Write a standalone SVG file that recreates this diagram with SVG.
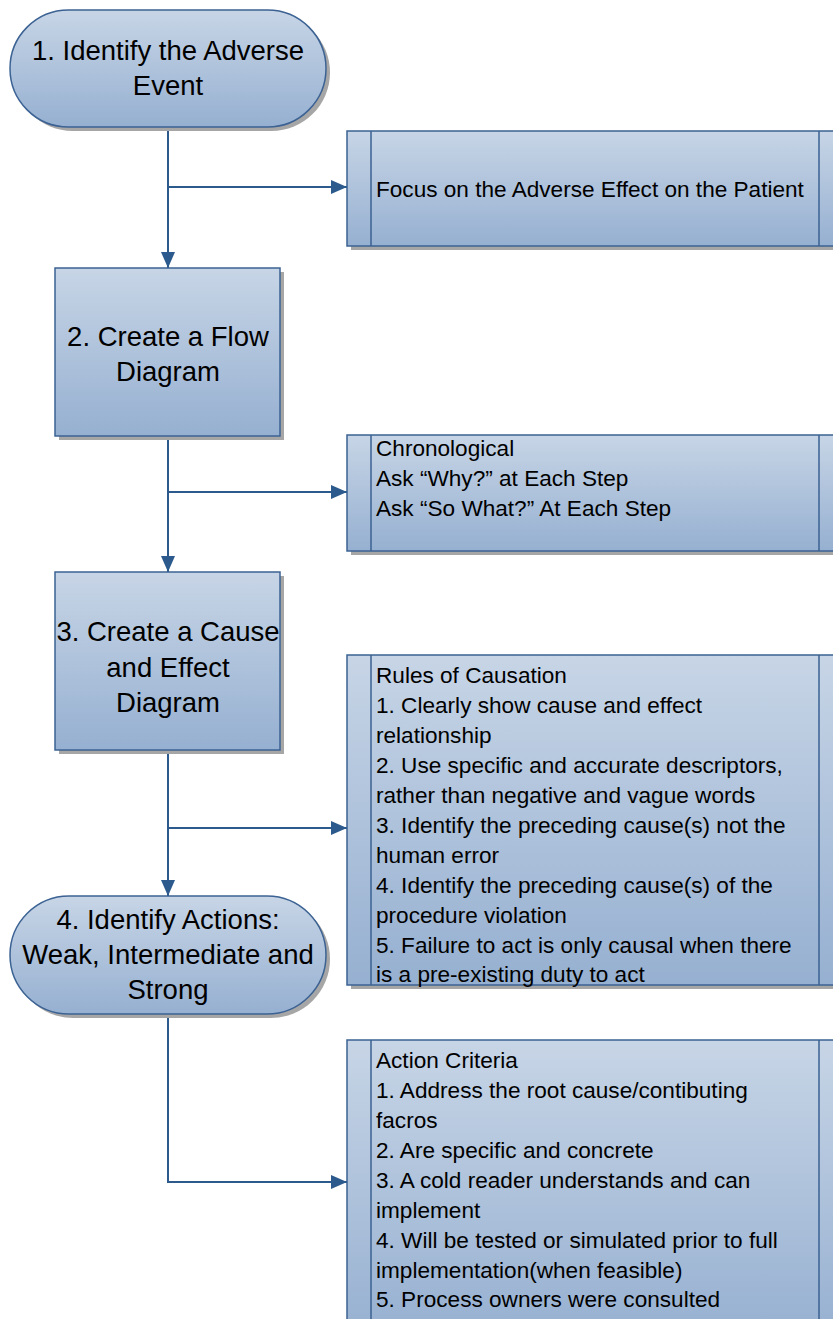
<svg xmlns="http://www.w3.org/2000/svg" width="833" height="1319" viewBox="0 0 833 1319">
<defs>
<linearGradient id="g" x1="0" y1="0" x2="0" y2="1">
<stop offset="0" stop-color="#c7d5e6"/>
<stop offset="1" stop-color="#96b0d1"/>
</linearGradient>
<marker id="arrv" viewBox="0 0 16 16" refX="16" refY="8" markerWidth="16" markerHeight="16" markerUnits="userSpaceOnUse" orient="auto">
<path d="M0,1 L16,8 L0,15 Z" fill="#2c5a8c"/>
</marker>
</defs>
<style>
.sh{fill:#a6a6a6}
.nd{fill:url(#g);stroke:#3b6293;stroke-width:1.5}
.ln{fill:none;stroke:#3b6293;stroke-width:1.5}
.t{font-family:"Liberation Sans",Arial,sans-serif;font-size:27.5px;fill:#000;text-anchor:middle}
.s{font-family:"Liberation Sans",Arial,sans-serif;font-size:22.6px;fill:#000}
.c{fill:none;stroke:#2c5a8c;stroke-width:2}
</style>
<rect width="833" height="1319" fill="#fff"/>

<g id="connectors">
<path class="c" d="M168,127 V268" marker-end="url(#arrv)"/>
<path class="c" d="M168,187 H347" marker-end="url(#arrv)"/>
<path class="c" d="M168,437 V572" marker-end="url(#arrv)"/>
<path class="c" d="M168,492 H347" marker-end="url(#arrv)"/>
<path class="c" d="M168,750 V896" marker-end="url(#arrv)"/>
<path class="c" d="M168,828 H347" marker-end="url(#arrv)"/>
<path class="c" d="M168,1016 V1182 H347" marker-end="url(#arrv)"/>
</g>

<g id="n1">
<rect class="sh" x="14" y="14" width="316" height="117" rx="58.5"/>
<rect class="nd" x="10" y="10" width="316" height="117" rx="58.5"/>
<text class="t" x="168" y="60">1. Identify the Adverse</text>
<text class="t" x="168" y="95">Event</text>
</g>

<g id="n2">
<rect class="sh" x="59" y="272" width="225" height="168"/>
<rect class="nd" x="55" y="268" width="225" height="168"/>
<text class="t" x="168" y="346">2. Create a Flow</text>
<text class="t" x="168" y="381">Diagram</text>
</g>

<g id="n3">
<rect class="sh" x="59" y="576" width="225" height="178"/>
<rect class="nd" x="55" y="572" width="225" height="178"/>
<text class="t" x="168" y="641">3. Create a Cause</text>
<text class="t" x="168" y="677">and Effect</text>
<text class="t" x="168" y="712">Diagram</text>
</g>

<g id="n4">
<rect class="sh" x="14" y="900" width="316" height="118" rx="59"/>
<rect class="nd" x="10" y="896" width="316" height="118" rx="59"/>
<text class="t" x="168" y="929">4. Identify Actions:</text>
<text class="t" x="168" y="964">Weak, Intermediate and</text>
<text class="t" x="168" y="999">Strong</text>
</g>

<g id="p1">
<rect class="sh" x="351" y="135" width="500" height="115"/>
<rect class="nd" x="347" y="131" width="500" height="115"/>
<path class="ln" d="M371,131 V246 M819,131 V246"/>
<text class="s" x="376" y="197">Focus on the Adverse Effect on the Patient</text>
</g>

<g id="p2">
<rect class="sh" x="351" y="439" width="500" height="116"/>
<rect class="nd" x="347" y="435" width="500" height="116"/>
<path class="ln" d="M371,435 V551 M819,435 V551"/>
<text class="s" x="376" y="456">Chronological</text>
<text class="s" x="376" y="486">Ask “Why?” at Each Step</text>
<text class="s" x="376" y="516">Ask “So What?” At Each Step</text>
</g>

<g id="p3">
<rect class="sh" x="351" y="659" width="500" height="330"/>
<rect class="nd" x="347" y="655" width="500" height="330"/>
<path class="ln" d="M371,655 V985 M819,655 V985"/>
<text class="s" x="376" y="683">Rules of Causation</text>
<text class="s" x="376" y="713">1. Clearly show cause and effect</text>
<text class="s" x="376" y="743">relationship</text>
<text class="s" x="376" y="773">2. Use specific and accurate descriptors,</text>
<text class="s" x="376" y="803">rather than negative and vague words</text>
<text class="s" x="376" y="833">3. Identify the preceding cause(s) not the</text>
<text class="s" x="376" y="863">human error</text>
<text class="s" x="376" y="893">4. Identify the preceding cause(s) of the</text>
<text class="s" x="376" y="923">procedure violation</text>
<text class="s" x="376" y="953">5. Failure to act is only causal when there</text>
<text class="s" x="376" y="982">is a pre-existing duty to act</text>
</g>

<g id="p4">
<rect class="sh" x="351" y="1044" width="500" height="300"/>
<rect class="nd" x="347" y="1040" width="500" height="300"/>
<path class="ln" d="M371,1040 V1340 M819,1040 V1340"/>
<text class="s" x="376" y="1068">Action Criteria</text>
<text class="s" x="376" y="1098">1. Address the root cause/contibuting</text>
<text class="s" x="376" y="1128">facros</text>
<text class="s" x="376" y="1158">2. Are specific and concrete</text>
<text class="s" x="376" y="1188">3. A cold reader understands and can</text>
<text class="s" x="376" y="1218">implement</text>
<text class="s" x="376" y="1248">4. Will be tested or simulated prior to full</text>
<text class="s" x="376" y="1278">implementation(when feasible)</text>
<text class="s" x="376" y="1307">5. Process owners were consulted</text>
</g>
</svg>
